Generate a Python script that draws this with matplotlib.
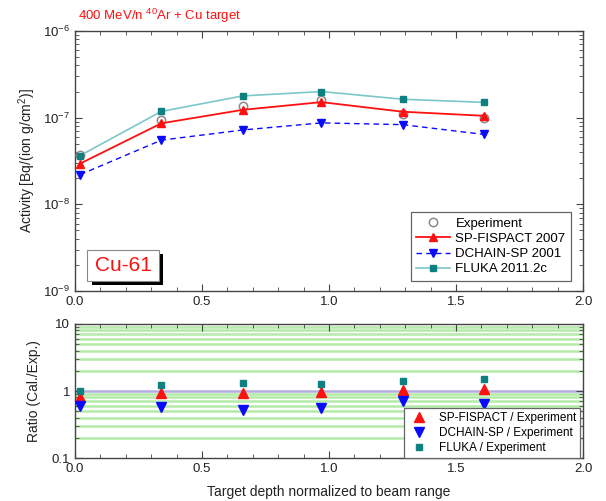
import numpy as np
import matplotlib.pyplot as plt
from matplotlib.ticker import LogLocator, MultipleLocator, FixedLocator, NullFormatter, FixedFormatter

plt.rcParams['font.family'] = ['Liberation Sans', 'DejaVu Sans']
plt.rcParams['mathtext.fontset'] = 'custom'
plt.rcParams['mathtext.rm'] = 'Liberation Sans'
plt.rcParams['mathtext.it'] = 'Liberation Sans:italic'

# Target depth (normalized to beam range)
depth = [0.02, 0.34, 0.66, 0.97, 1.29, 1.61]

# Activity [Bq/(ion g/cm2)]
experiment = [3.7e-8, 9.5e-8, 1.35e-7, 1.58e-7, 1.11e-7, 9.8e-8]
fispact = [2.95e-8, 8.6e-8, 1.23e-7, 1.51e-7, 1.17e-7, 1.05e-7]
dchain = [2.2e-8, 5.5e-8, 7.2e-8, 8.7e-8, 8.3e-8, 6.4e-8]
fluka = [3.65e-8, 1.18e-7, 1.78e-7, 2.0e-7, 1.63e-7, 1.5e-7]

# Ratios Cal./Exp.
ratio_fispact = [0.80, 0.93, 0.93, 0.96, 1.05, 1.07]
ratio_dchain = [0.60, 0.58, 0.52, 0.55, 0.72, 0.63]
ratio_fluka = [1.00, 1.25, 1.32, 1.28, 1.42, 1.50]

RED = '#ff1010'
BLUE = '#0a0aff'
TEAL = '#0d8080'
TEAL_LINE = '#7cc8c8'
SPINE = '#444444'

fig = plt.figure(figsize=(6.06, 5.01), dpi=100)
ax1 = fig.add_axes([0.1238, 0.4192, 0.8383, 0.519])
ax2 = fig.add_axes([0.1238, 0.0858, 0.8383, 0.2675])


def style_axes(ax):
    for s in ax.spines.values():
        s.set_color(SPINE)
        s.set_linewidth(1.0)
    ax.set_xlim(0, 2.0)
    ax.set_xticks([0.0, 0.5, 1.0, 1.5, 2.0])
    ax.set_xticklabels(['0.0', '0.5', '1.0', '1.5', '2.0'])
    ax.xaxis.set_minor_locator(MultipleLocator(0.1))
    ax.tick_params(which='both', direction='in', top=True, right=True,
                   colors=SPINE, labelcolor='#222222', labelsize=9.5)
    ax.tick_params(which='major', length=5)
    ax.tick_params(which='minor', length=3)


# ---- Top panel: activity ----
ax1.set_yscale('log')
ax1.set_ylim(1e-9, 1e-6)
style_axes(ax1)
ax1.yaxis.set_major_locator(LogLocator(base=10, numticks=10))
ax1.yaxis.set_minor_locator(LogLocator(base=10, subs=np.arange(2, 10), numticks=10))
ax1.yaxis.set_minor_formatter(NullFormatter())

ax1.plot(depth, experiment, 'o', mfc='white', mec='#8a8a8a', mew=1.1, ms=6,
         linestyle='none', label='Experiment', zorder=3)
ax1.plot(depth, fispact, '-^', color=RED, lw=1.3, ms=5.5, label='SP-FISPACT 2007', zorder=4)
ax1.plot(depth, dchain, '--v', color=BLUE, lw=1.0, ms=5.5, dashes=(4, 3),
         label='DCHAIN-SP 2001', zorder=4)
ax1.plot(depth, fluka, '-s', color=TEAL_LINE, mfc=TEAL, mec=TEAL, lw=1.2, ms=4.8,
         label='FLUKA 2011.2c', zorder=4)

ax1.set_ylabel('Activity [Bq/(ion g/cm$^{2}$)]', fontsize=10, color='#222222', labelpad=4)

leg1 = ax1.legend(loc='lower right', bbox_to_anchor=(0.976, 0.04), fontsize=9.5,
                  frameon=True, fancybox=False, edgecolor='#666666', framealpha=1,
                  handlelength=2.6, handletextpad=0.4, borderpad=0.4,
                  labelspacing=0.22, borderaxespad=0)
leg1.get_frame().set_linewidth(0.9)

# Cu-61 label box with black drop shadow
ax1.add_patch(plt.Rectangle((0.033, 0.022), 0.141, 0.12, transform=ax1.transAxes,
                            fc='black', ec='none', zorder=5))
ax1.add_patch(plt.Rectangle((0.024, 0.038), 0.141, 0.12, transform=ax1.transAxes,
                            fc='white', ec='#888888', lw=0.8, zorder=6))
ax1.text(0.0945, 0.098, 'Cu-61', transform=ax1.transAxes, fontsize=15, color=RED,
         ha='center', va='center', zorder=7)

fig.text(0.128, 0.968, '400 MeV/n $^{40}$Ar + Cu target', color=RED, fontsize=9.5,
         ha='left', va='center')

# ---- Bottom panel: ratios ----
ax2.set_yscale('log')
ax2.set_ylim(0.1, 10)
style_axes(ax2)
ax2.yaxis.set_major_locator(FixedLocator([0.1, 1, 10]))
ax2.yaxis.set_major_formatter(FixedFormatter(['0.1', '1', '10']))
ax2.yaxis.set_minor_locator(LogLocator(base=10, subs=np.arange(2, 10), numticks=10))
ax2.yaxis.set_minor_formatter(NullFormatter())

grid_levels = [v * d for d in (0.1, 1.0) for v in range(2, 10)]
for g in grid_levels:
    ax2.axhline(g, color='#b4eaa8', lw=1.8, zorder=0)
ax2.axhline(1.0, color='#b4aee0', lw=1.8, zorder=0.5)

ax2.plot(depth, ratio_fispact, '^', color=RED, ms=6.5, linestyle='none',
         label='SP-FISPACT / Experiment', zorder=3)
ax2.plot(depth, ratio_dchain, 'v', color=BLUE, ms=6.5, linestyle='none',
         label='DCHAIN-SP / Experiment', zorder=3)
ax2.plot(depth, ratio_fluka, 's', color=TEAL, ms=5, linestyle='none',
         label='FLUKA / Experiment', zorder=3)

ax2.set_ylabel('Ratio (Cal./Exp.)', fontsize=10, color='#222222', labelpad=8)
ax2.set_xlabel('Target depth normalized to beam range', fontsize=10, color='#222222', labelpad=7)

leg2 = ax2.legend(loc='lower right', bbox_to_anchor=(0.994, 0.0), fontsize=8.5,
                  frameon=True, fancybox=False, edgecolor='#666666', framealpha=1,
                  handlelength=1.8, handletextpad=0.8, borderpad=0.35,
                  labelspacing=0.25, borderaxespad=0)
leg2.get_frame().set_linewidth(0.9)

fig.savefig('out.png', dpi=100)
